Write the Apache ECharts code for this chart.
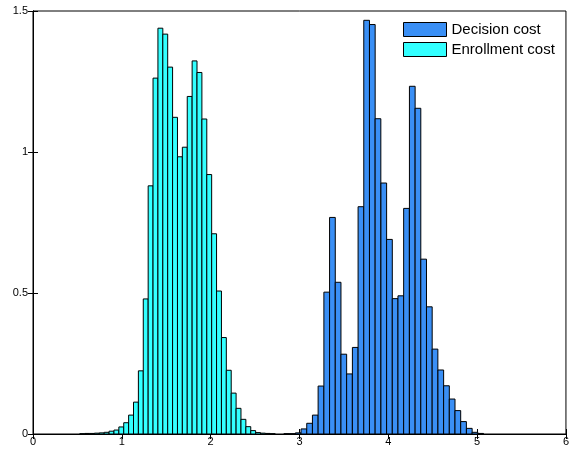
<!DOCTYPE html>
<html>
<head>
<meta charset="utf-8">
<script src="https://cdn.jsdelivr.net/npm/echarts@6/dist/echarts.min.js"></script>
<style>
  html, body { margin: 0; padding: 0; background: #fff; }
  #chart { width: 572px; height: 455px; }
</style>
</head>
<body>
<div id="chart"></div>
<script>
// Histogram bin centres and heights for the two cost distributions
const enrollmentCenters = [0.554, 0.609, 0.664, 0.719, 0.774, 0.829, 0.884, 0.939, 0.994,
  1.049, 1.104, 1.159, 1.214, 1.269, 1.324, 1.379, 1.434, 1.489, 1.544,
  1.599, 1.654, 1.709, 1.764, 1.819, 1.874, 1.929, 1.984, 2.039, 2.094,
  2.149, 2.204, 2.259, 2.314, 2.369, 2.424, 2.479, 2.534, 2.589, 2.644, 2.699];
const enrollmentValues = [0.001, 0.002, 0.002, 0.003, 0.004, 0.006, 0.010, 0.014, 0.025,
  0.040, 0.067, 0.113, 0.224, 0.479, 0.880, 1.262, 1.439, 1.418, 1.301,
  1.123, 0.983, 1.017, 1.197, 1.323, 1.282, 1.117, 0.920, 0.710, 0.507,
  0.342, 0.226, 0.145, 0.091, 0.052, 0.026, 0.012, 0.005, 0.003, 0.002, 0.001];
const enrollmentBinWidth = 0.055;

const decisionCenters = [2.857, 2.921, 2.986, 3.050, 3.114, 3.178, 3.242, 3.307, 3.371, 3.435,
  3.499, 3.563, 3.628, 3.692, 3.756, 3.820, 3.884, 3.949, 4.013, 4.077,
  4.141, 4.205, 4.270, 4.334, 4.398, 4.462, 4.526, 4.591, 4.655, 4.719,
  4.783, 4.847, 4.912, 4.976, 5.040];
const decisionValues = [0.001, 0.001, 0.004, 0.018, 0.038, 0.067, 0.170, 0.503, 0.768, 0.538,
  0.283, 0.213, 0.307, 0.806, 1.467, 1.452, 1.118, 0.890, 0.690, 0.480,
  0.490, 0.800, 1.233, 1.155, 0.620, 0.451, 0.301, 0.227, 0.171, 0.124,
  0.083, 0.044, 0.020, 0.006, 0.002];
const decisionBinWidth = 0.0642;

const xTicks = [0, 1, 2, 3, 4, 5, 6];
const yTicks = [0, 0.5, 1, 1.5];

const DECISION_COLOR = '#3a8ff5';
const ENROLL_COLOR = '#33ffff';
const FONT = '"Liberation Sans", Arial, sans-serif';

function histData(centers, values) {
  return centers.map((c, i) => [c, values[i]]);
}

function histRenderer(binWidth, color) {
  return function (params, api) {
    const x = api.value(0);
    const y = api.value(1);
    const p0 = api.coord([x - binWidth / 2, y]);
    const p1 = api.coord([x + binWidth / 2, 0]);
    return {
      type: 'rect',
      shape: { x: p0[0], y: p0[1], width: p1[0] - p0[0], height: p1[1] - p0[1] },
      style: { fill: color, stroke: '#000', lineWidth: 1 }
    };
  };
}

const chart = echarts.init(document.getElementById('chart'), null, { renderer: 'canvas' });

const axisLine = { show: true, lineStyle: { color: '#000', width: 1 } };
const tickIn = { show: true, inside: true, length: 5, lineStyle: { color: '#000' } };

chart.setOption({
  animation: false,
  backgroundColor: '#fff',
  textStyle: { fontFamily: FONT },
  grid: { left: 33, right: 5, top: 11, bottom: 21, show: true, borderColor: '#000', borderWidth: 1 },
  legend: {
    left: 403,
    top: 22,
    padding: 0,
    orient: 'vertical',
    itemWidth: 43,
    itemHeight: 14,
    itemGap: 5,
    textStyle: { fontFamily: FONT, fontSize: 15, lineHeight: 14, color: '#000' },
    data: [
      { name: 'Decision cost', icon: 'rect', itemStyle: { color: DECISION_COLOR, borderColor: '#000', borderWidth: 1 } },
      { name: 'Enrollment cost', icon: 'rect', itemStyle: { color: ENROLL_COLOR, borderColor: '#000', borderWidth: 1 } }
    ]
  },
  xAxis: [
    {
      type: 'value', min: xTicks[0], max: xTicks[xTicks.length - 1], interval: 1,
      axisLine: axisLine, axisTick: tickIn, splitLine: { show: false },
      axisLabel: { color: '#000', fontSize: 11, fontFamily: FONT, margin: 2 }
    },
    {
      type: 'value', position: 'top', min: xTicks[0], max: xTicks[xTicks.length - 1], interval: 1,
      axisLine: axisLine, axisTick: tickIn, splitLine: { show: false }, axisLabel: { show: false }
    }
  ],
  yAxis: [
    {
      type: 'value', min: yTicks[0], max: yTicks[yTicks.length - 1], interval: 0.5,
      axisLine: axisLine, axisTick: tickIn, splitLine: { show: false },
      axisLabel: { color: '#000', fontSize: 11, fontFamily: FONT, margin: 5 }
    },
    {
      type: 'value', position: 'right', min: yTicks[0], max: yTicks[yTicks.length - 1], interval: 0.5,
      axisLine: axisLine, axisTick: tickIn, splitLine: { show: false }, axisLabel: { show: false }
    }
  ],
  series: [
    {
      name: 'Decision cost', type: 'custom',
      itemStyle: { color: DECISION_COLOR },
      renderItem: histRenderer(decisionBinWidth, DECISION_COLOR),
      encode: { x: 0, y: 1 },
      data: histData(decisionCenters, decisionValues)
    },
    {
      name: 'Enrollment cost', type: 'custom',
      itemStyle: { color: ENROLL_COLOR },
      renderItem: histRenderer(enrollmentBinWidth, ENROLL_COLOR),
      encode: { x: 0, y: 1 },
      data: histData(enrollmentCenters, enrollmentValues)
    }
  ]
});
</script>
</body>
</html>
